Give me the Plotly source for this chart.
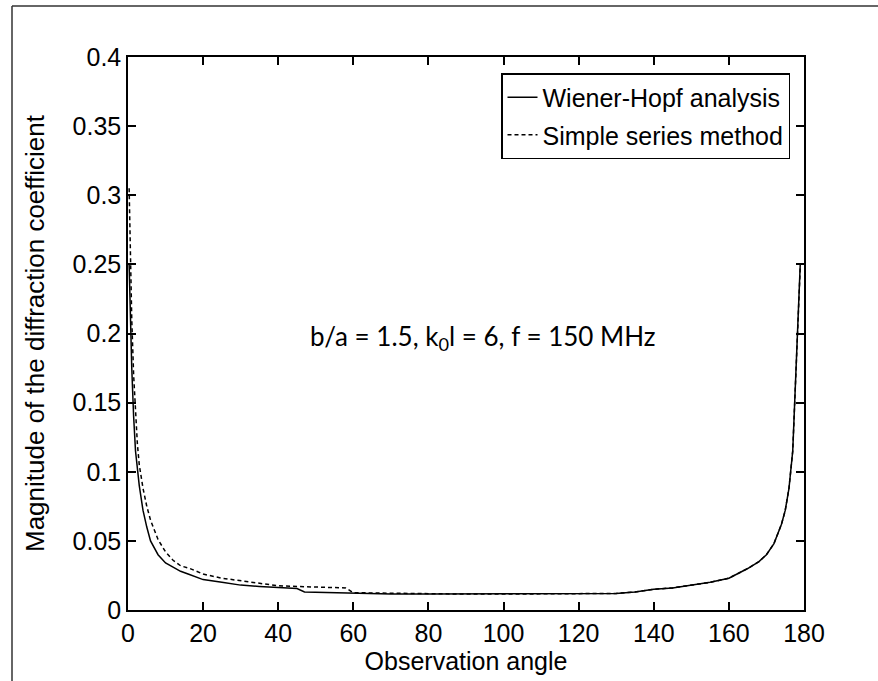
import plotly.graph_objects as go

# Wiener-Hopf analysis (solid)
wh_angle = [0.3, 0.6, 1.0, 1.5, 2.0, 3.0, 4.0, 5.0, 6.0, 8.0, 10, 12, 14, 16, 18, 20, 25, 30, 35, 40,
            45, 47, 55, 60, 70, 80, 90, 100, 110, 120, 130, 135, 140, 145, 150, 155, 160, 165, 168,
            170, 172, 174, 175, 176, 177, 178, 178.6, 179]
wh_mag = [0.250, 0.215, 0.175, 0.140, 0.115, 0.090, 0.072, 0.060, 0.050, 0.040, 0.034, 0.031, 0.028,
          0.026, 0.024, 0.022, 0.020, 0.018, 0.017, 0.016, 0.0155, 0.013, 0.0125, 0.012, 0.0115,
          0.0115, 0.0115, 0.0115, 0.0115, 0.012, 0.012, 0.013, 0.015, 0.016, 0.018, 0.020, 0.023,
          0.030, 0.035, 0.040, 0.048, 0.062, 0.072, 0.088, 0.115, 0.180, 0.226, 0.250]

# Simple series method (dashed)
ss_angle = [0.3, 0.6, 1.0, 1.5, 2.0, 2.5, 3.0, 4.0, 5.0, 6.0, 8.0, 10, 12, 14, 16.5, 20, 25, 30, 35,
            40, 45, 50, 58, 60, 70, 80, 90, 100, 110, 120, 130, 135, 140, 145, 150, 155, 160, 165,
            168, 170, 172, 174, 175, 176, 177, 178, 178.6, 179]
ss_mag = [0.305, 0.260, 0.210, 0.170, 0.140, 0.120, 0.105, 0.088, 0.075, 0.065, 0.051, 0.042, 0.036,
          0.032, 0.030, 0.026, 0.023, 0.021, 0.019, 0.0175, 0.017, 0.0165, 0.016, 0.0125, 0.012,
          0.0115, 0.0115, 0.0115, 0.0115, 0.012, 0.012, 0.013, 0.015, 0.016, 0.018, 0.020, 0.023,
          0.030, 0.035, 0.040, 0.048, 0.062, 0.072, 0.088, 0.115, 0.180, 0.226, 0.248]

x_ticks = [0, 20, 40, 60, 80, 100, 120, 140, 160, 180]
y_ticks = [0, 0.05, 0.1, 0.15, 0.2, 0.25, 0.3, 0.35, 0.4]
y_tick_text = ["0", "0.05", "0.1", "0.15", "0.2", "0.25", "0.3", "0.35", "0.4"]

W, H = 878, 681
L, R, T, B = 128, 804, 57, 610

def px(x):
    return (x - L) / (R - L)

def py(y):
    return (B - y) / (B - T)

FONT = "Liberation Sans, Arial, sans-serif"
FS = 25

fig = go.Figure()
fig.add_trace(go.Scatter(x=wh_angle, y=wh_mag, mode="lines", name="Wiener-Hopf analysis",
                         line=dict(color="black", width=1.5), legendgroup="a"))
fig.add_trace(go.Scatter(x=ss_angle, y=ss_mag, mode="lines", name="Simple series method",
                         line=dict(color="black", width=1.5, dash="4px,3px"), legendgroup="b"))

axis_common = dict(showgrid=False, zeroline=False, showline=True, mirror="ticks",
                   linecolor="black", linewidth=1.5, ticks="inside", ticklen=8,
                   tickwidth=1.5, tickcolor="black",
                   tickfont=dict(family=FONT, size=FS, color="black"))

fig.update_xaxes(range=[0, 180], tickvals=x_ticks, ticktext=[str(v) for v in x_ticks],
                 title=dict(text="Observation angle", font=dict(family=FONT, size=FS, color="black"),
                            standoff=4),
                 **axis_common)
fig.update_yaxes(range=[0, 0.4], tickvals=y_ticks, ticktext=y_tick_text,
                 title=dict(text="Magnitude of the diffraction coefficient",
                            font=dict(family=FONT, size=26, color="black"), standoff=20),
                 **axis_common)

fig.add_annotation(x=px(308), y=py(337), xref="paper", yref="paper", showarrow=False,
                   xanchor="left", yanchor="middle",
                   text="b/a = 1.5, k<sub>0</sub>l = 6, f = 150 MHz",
                   font=dict(family="Lato, Carlito, sans-serif", size=26, color="black"))

# outer frame (top and left edges)
fig.add_shape(type="line", xref="paper", yref="paper", x0=px(12), y0=py(6), x1=px(878), y1=py(6),
              line=dict(color="#333333", width=1.5))
fig.add_shape(type="line", xref="paper", yref="paper", x0=px(12), y0=py(6), x1=px(12), y1=py(681),
              line=dict(color="#333333", width=1.5))

fig.update_layout(
    width=W, height=H,
    margin=dict(l=L, r=W - R, t=T, b=H - B),
    paper_bgcolor="white", plot_bgcolor="white",
    showlegend=True,
    legend=dict(x=px(790), y=py(73), xanchor="right", yanchor="top",
                bgcolor="white", bordercolor="black", borderwidth=1.5,
                font=dict(family=FONT, size=FS, color="black"),
                tracegroupgap=2, itemwidth=30),
)

fig.write_html("out.html")
